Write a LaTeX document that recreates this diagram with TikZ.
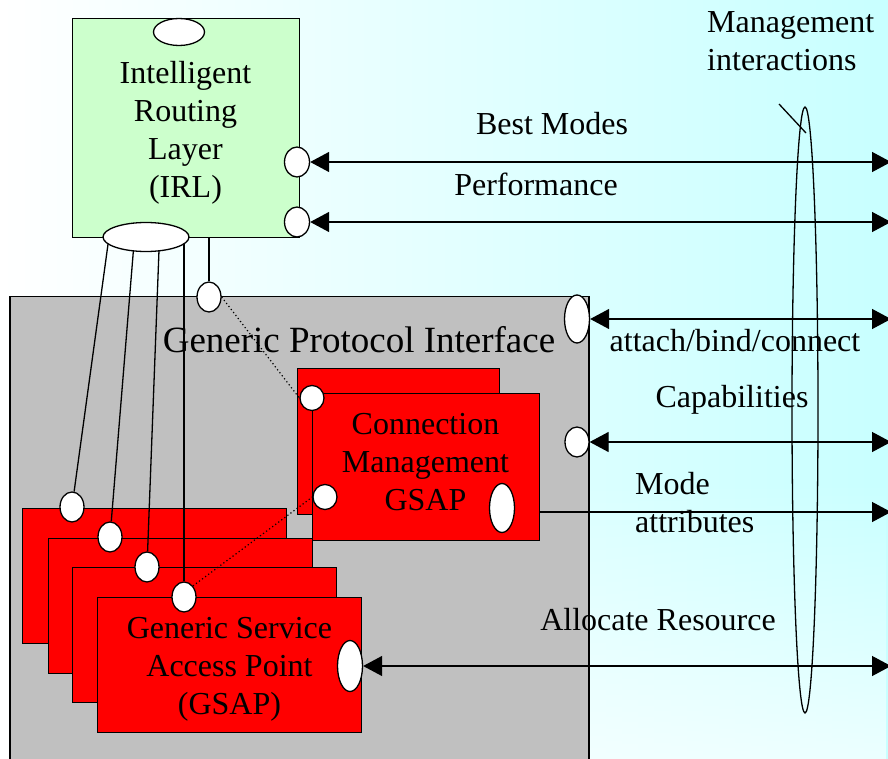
\documentclass[tikz,border=0pt]{standalone}
\usepackage{fontspec}
\setmainfont{Liberation Serif}
\usetikzlibrary{arrows.meta,shapes.geometric,calc,fadings}
\definecolor{irlgreen}{RGB}{204,255,204}
\definecolor{gsapred}{RGB}{255,0,0}
\definecolor{gpigray}{RGB}{192,192,192}
\definecolor{skycyan}{RGB}{200,255,255}
\pgfdeclarelayer{bg}
\pgfdeclarelayer{wires}
\pgfsetlayers{bg,wires,main}
\tikzfading[name=lowfade, top color=transparent!100, bottom color=transparent!35]

\begin{document}
\begin{tikzpicture}[x=1pt,y=-1pt,
  every node/.style={font=\fontsize{32}{38}\selectfont, inner sep=0pt},
  box/.style={draw, line width=1.3pt, rectangle, anchor=north west},
  gsapbox/.style={box, fill=gsapred, minimum width=264pt, minimum height=135pt},
  port/.style 2 args={ellipse, draw, fill=white, line width=1.3pt,
    inner sep=0pt, minimum width=#1, minimum height=#2},
  wire/.style={line width=1.3pt},
  dotline/.style={line width=1.2pt, dash pattern=on 1.2pt off 2.6pt},
  link/.style={line width=1.3pt, >={Triangle[length=19pt,width=20pt]}}]

\useasboundingbox (0,0) rectangle (888,759);

\begin{pgfonlayer}{bg}
  % backdrop: white to pale cyan, paler towards the bottom
  \shade[left color=white, right color=skycyan] (0,0) rectangle (888,759);
  \fill[white, path fading=lowfade] (0,480) rectangle (888,759);
  % Intelligent Routing Layer
  \node[box, fill=irlgreen, minimum width=227pt, minimum height=219pt] (irl) at (72,18) {};
  \node[align=center] (irlt) at (185.5,132.5) {Intelligent\\Routing\\Layer\\(IRL)};
  % Generic Protocol Interface
  \node[box, fill=gpigray, minimum width=579pt, minimum height=480pt] (gpi) at (9.3,296) {};
  \node[font=\fontsize{37}{44}\selectfont] (gpil) at (359,340) {Generic Protocol Interface};
  % Connection Management GSAP (two stacked)
  \node[box, fill=gsapred, minimum width=202pt, minimum height=146pt] (cmb) at (297,368) {};
  \node[box, fill=gsapred, minimum width=227pt, minimum height=147pt] (cmf) at (312,393) {};
  \node[align=center] (cmt) at (425.5,462.5) {Connection\\Management\\GSAP};
  % stack of Generic Service Access Points
  \node[gsapbox] (g1) at (22,508) {};
  \node[gsapbox] (g2) at (47.5,537.5) {};
  \node[gsapbox] (g3) at (72,567) {};
  \node[gsapbox] (g4) at (97,597) {};
  \node[align=center] (g4t) at (229.5,669) {Generic Service\\Access Point\\(GSAP)};
\end{pgfonlayer}

% interface points
\node[port={51pt}{27pt}] (irltop) at (179,32) {};
\node[port={86pt}{29pt}] (irlb) at (146,237) {};
\node[port={25pt}{30pt}] (irl1) at (297,162) {};
\node[port={25pt}{30pt}] (irl2) at (297,222) {};
\node[port={24pt}{30pt}] (irls) at (209,297) {};
\node[port={25pt}{48pt}] (gpia) at (577,319) {};
\node[port={24pt}{30pt}] (gpic) at (577,442) {};
\node[port={24pt}{25pt}] (cm1) at (312,398) {};
\node[port={24pt}{25pt}] (cm2) at (325,497) {};
\node[port={25pt}{49pt}] (cm3) at (502,508) {};
\node[port={24pt}{30pt}] (s1) at (72,507) {};
\node[port={24pt}{30pt}] (s2) at (110,537) {};
\node[port={24pt}{30pt}] (s3) at (147,567) {};
\node[port={24pt}{30pt}] (s4) at (184,597) {};
\node[port={25pt}{51pt}] (g4p) at (350,666) {};

% right-hand ends of the interactions
\coordinate (e1) at (891,162);
\coordinate (e2) at (891,222);
\coordinate (e3) at (891,319);
\coordinate (e4) at (891,442);
\coordinate (e5) at (891,512);
\coordinate (e6) at (891,666);

\begin{pgfonlayer}{wires}
  % IRL to each GSAP
  \draw[wire] ([xshift=-37pt]irlb.center) -- (s1);
  \draw[wire] ([xshift=-11.5pt]irlb.center) -- (s2);
  \draw[wire] ([xshift=13.5pt]irlb.center) -- (s3);
  \draw[wire] ([xshift=38pt]irlb.center) -- (s4);
  \draw[wire] (irls) -- (irls |- irl.south);
  % dotted management links
  \draw[dotline] (irls.east) -- (cm1.west);
  \draw[dotline] (s4.north east) -- (cm2.west);
  % interactions
  \draw[link,<->] (irl1) -- (e1);
  \draw[link,<->] (irl2) -- (e2);
  \draw[link,<->] (gpia) -- (e3);
  \draw[link,<->] (gpic) -- (e4);
  \draw[link,->] (e5 -| cmf.east) -- (e5);
  \draw[link,<->] (g4p) -- (e6);
\end{pgfonlayer}

% grouping of management interactions
\node[ellipse, draw, line width=1.3pt, minimum width=26pt, minimum height=606pt] (mgmt) at (805,410) {};
\coordinate (mtag) at (779,104);
\coordinate (mhit) at (806,133);
\draw[wire] (mtag) -- (mhit);

% labels
\node (lbm) at (552,124) {Best Modes};
\node (lpf) at (536,184) {Performance};
\node (lab) at (735,341) {attach/bind/connect};
\node (lcp) at (732,400) {Capabilities};
\node[align=left, anchor=west] (lma) at (635,503) {Mode\\attributes};
\node (lar) at (658,620) {Allocate Resource};
\node[align=left, anchor=west] (lmi) at (707,41) {Management\\interactions};

\end{tikzpicture}
\end{document}
